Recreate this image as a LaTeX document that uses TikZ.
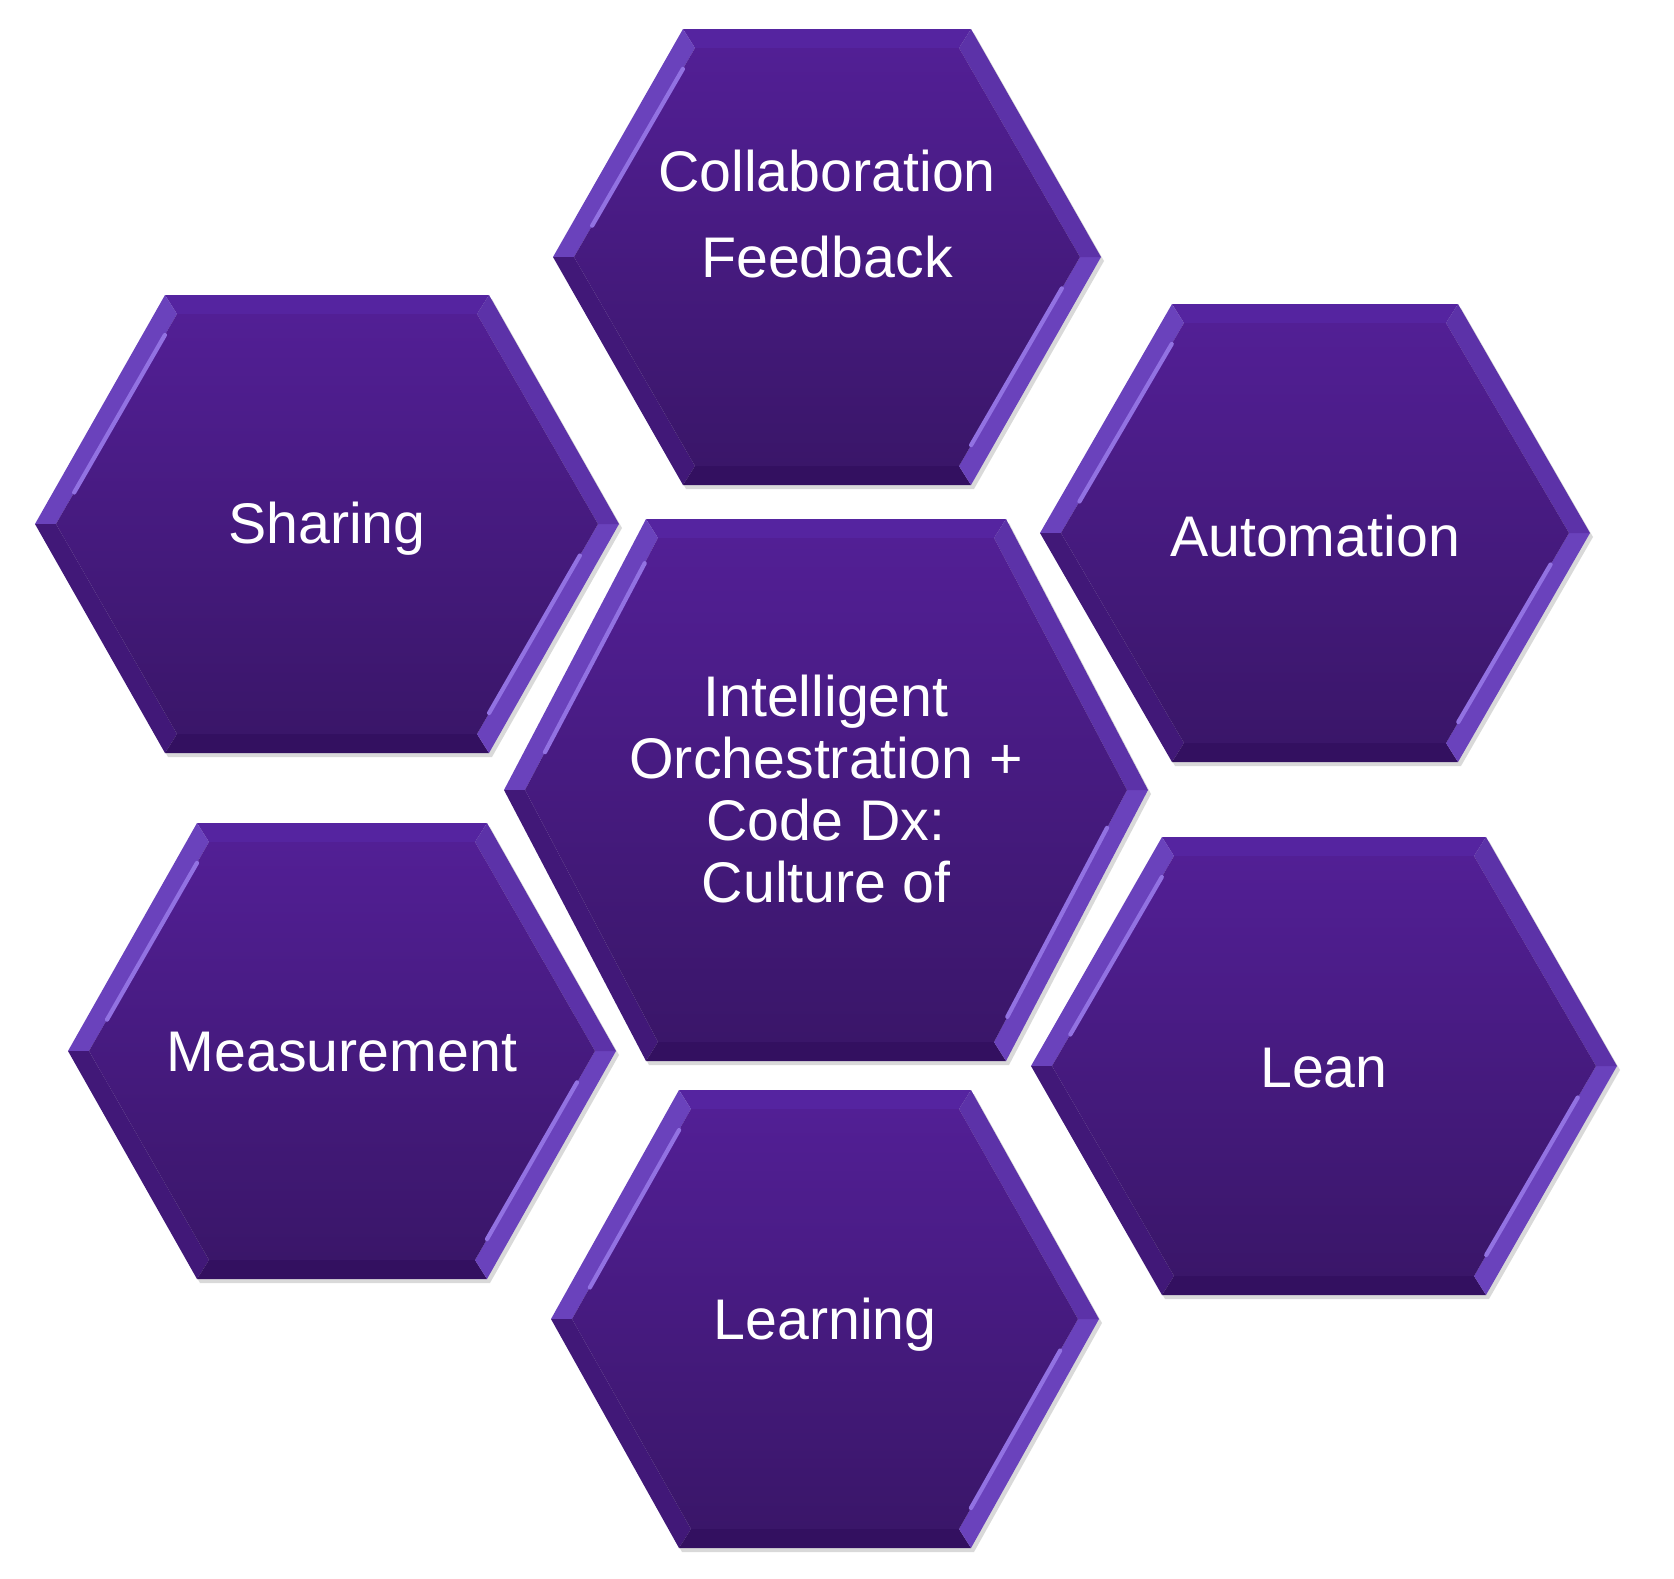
\documentclass[tikz,border=0pt]{standalone}
\usepackage{fontspec}
\setmainfont{Liberation Sans}
\definecolor{hexTop}{HTML}{521F95}
\definecolor{hexBot}{HTML}{3A1669}
\definecolor{bevHigh}{HTML}{6A42BC}
\definecolor{bevGlint}{HTML}{9272E2}
\definecolor{bevMid}{HTML}{5C32A8}
\definecolor{bevTop}{HTML}{5524A0}
\definecolor{bevLow}{HTML}{411878}
\definecolor{bevDark}{HTML}{331060}
\tikzset{
  hexface/.style={top color=hexTop, bottom color=hexBot},
  hexshadow/.style={fill=black, opacity=0.15},
  hexglint/.style={draw=bevGlint, line width=1.2pt, line cap=round},
  hexlabel/.style={text=white, align=center, font=\fontsize{16.3}{17.6}\selectfont},
}
% #1 name, #2 cx, #3 cy, #4 half width, #5 half height, #6 half top edge
\newcommand\hexcell[6]{%
  \path (#2+#4,#3) coordinate (#1-o1) (#2+#6,#3+#5) coordinate (#1-o2)
        (#2-#6,#3+#5) coordinate (#1-o3) (#2-#4,#3) coordinate (#1-o4)
        (#2-#6,#3-#5) coordinate (#1-o5) (#2+#6,#3-#5) coordinate (#1-o6);
  \path (#2+#4-0.21,#3) coordinate (#1-i1) (#2+#6-0.12,#3+#5-0.19) coordinate (#1-i2)
        (#2-#6+0.12,#3+#5-0.19) coordinate (#1-i3) (#2-#4+0.21,#3) coordinate (#1-i4)
        (#2-#6+0.12,#3-#5+0.19) coordinate (#1-i5) (#2+#6-0.12,#3-#5+0.19) coordinate (#1-i6);
  \fill[hexshadow] ([shift={(0.03,-0.04)}]#1-o1)--([shift={(0.03,-0.04)}]#1-o2)--([shift={(0.03,-0.04)}]#1-o3)
        --([shift={(0.03,-0.04)}]#1-o4)--([shift={(0.03,-0.04)}]#1-o5)--([shift={(0.03,-0.04)}]#1-o6)--cycle;
  \fill[bevTop] (#1-o2)--(#1-o3)--(#1-i3)--(#1-i2)--cycle;
  \fill[bevHigh] (#1-o3)--(#1-o4)--(#1-i4)--(#1-i3)--cycle;
  \fill[bevLow] (#1-o4)--(#1-o5)--(#1-i5)--(#1-i4)--cycle;
  \fill[bevDark] (#1-o5)--(#1-o6)--(#1-i6)--(#1-i5)--cycle;
  \fill[bevHigh] (#1-o6)--(#1-o1)--(#1-i1)--(#1-i6)--cycle;
  \fill[bevMid] (#1-o1)--(#1-o2)--(#1-i2)--(#1-i1)--cycle;
  \shade[hexface] (#1-i1)--(#1-i2)--(#1-i3)--(#1-i4)--(#1-i5)--(#1-i6)--cycle;
  \draw[hexglint] ($(#1-i3)!0.1!(#1-i4)$)--($(#1-i3)!0.85!(#1-i4)$);
  \draw[hexglint] ($(#1-i6)!0.1!(#1-i1)$)--($(#1-i6)!0.85!(#1-i1)$);
}
\usetikzlibrary{calc}
\begin{document}
\begin{tikzpicture}
\useasboundingbox (0,0) rectangle (16.74,-15.78);
% hexagons
\hexcell{hcollab}{8.27}{-2.57}{2.74}{2.28}{1.44}
\hexcell{hshare}{3.27}{-5.24}{2.92}{2.29}{1.62}
\hexcell{hauto}{13.15}{-5.33}{2.75}{2.29}{1.43}
\hexcell{hcore}{8.26}{-7.90}{3.22}{2.71}{1.80}
\hexcell{hmeasure}{3.42}{-10.51}{2.74}{2.28}{1.45}
\hexcell{hlean}{13.24}{-10.66}{2.93}{2.29}{1.62}
\hexcell{hlearn}{8.25}{-13.19}{2.74}{2.29}{1.46}
% labels
\node[hexlabel] (collab) at (8.27,-2.14) {Collaboration\\[0.25cm]Feedback};
\node[hexlabel] (share) at (3.27,-5.29) {Sharing};
\node[hexlabel] (auto) at (13.15,-5.36) {Automation};
\node[hexlabel] (core) at (8.26,-7.89) {Intelligent\\Orchestration +\\Code Dx:\\Culture of};
\node[hexlabel] (measure) at (3.42,-10.52) {Measurement};
\node[hexlabel] (lean) at (13.24,-10.68) {Lean};
\node[hexlabel] (learn) at (8.25,-13.25) {Learning};
\end{tikzpicture}
\end{document}
